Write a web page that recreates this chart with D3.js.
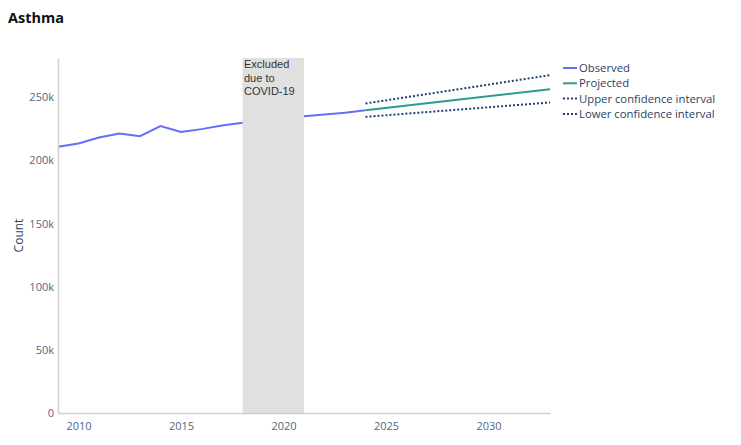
<!DOCTYPE html>
<html><head><meta charset="utf-8">
<script src="https://cdn.jsdelivr.net/npm/d3@7"></script>
<style>
body{margin:0;background:#fff;}
svg{display:block;}
</style></head>
<body><svg id="c" width="741" height="445"></svg>
<script>
const observedYears = [2009,2010,2011,2012,2013,2014,2015,2016,2017,2018,2021,2022,2023,2024];
const observedValues = [210700,213300,218100,221300,219100,227100,222500,224700,227600,229700,234900,236300,237600,239600];
const projYears = [2024,2033];
const projValues = [239600,256300];
const upperYears = [2024,2033];
const upperValues = [245000,267400];
const lowerYears = [2024,2033];
const lowerValues = [234400,245800];
const covidBand = [2018,2021];
const xTicks = [2010,2015,2020,2025,2030];
const yTicks = [0,50000,100000,150000,200000,250000];
const legendLabels = ["Observed","Projected","Upper confidence interval","Lower confidence interval"];

const svg = d3.select("#c");
const m = {l:58, r:191, t:58, b:32};
const W = 741, H = 445;
const x = d3.scaleLinear().domain([2009,2033]).range([m.l, W-m.r]);
const y = d3.scaleLinear().domain([0,281000]).range([H-m.b, m.t]);
const font = "'Open Sans', sans-serif";

svg.append("text").attr("x",8).attr("y",23).text("Asthma")
  .attr("font-family","'Open Sans', sans-serif").attr("font-weight","bold")
  .attr("font-size",14.5).attr("fill","#111");

const line = d3.line().x(d=>x(d[0])).y(d=>y(d[1]));
const zip = (a,b)=>a.map((v,i)=>[v,b[i]]);

svg.append("path").datum(zip(observedYears,observedValues)).attr("d",line)
  .attr("fill","none").attr("stroke","#636efa").attr("stroke-width",2);
svg.append("path").datum(zip(projYears,projValues)).attr("d",line)
  .attr("fill","none").attr("stroke","#2a9d8f").attr("stroke-width",2);
svg.append("path").datum(zip(upperYears,upperValues)).attr("d",line)
  .attr("fill","none").attr("stroke","#1f3f73").attr("stroke-width",2).attr("stroke-dasharray","2,2");
svg.append("path").datum(zip(lowerYears,lowerValues)).attr("d",line)
  .attr("fill","none").attr("stroke","#1f3f73").attr("stroke-width",2).attr("stroke-dasharray","2,2");

// covid band
svg.append("rect").attr("x",x(covidBand[0])).attr("y",m.t)
  .attr("width",x(covidBand[1])-x(covidBand[0])).attr("height",H-m.b-m.t)
  .attr("fill","#e0e0e0");
const bt = svg.append("text").attr("font-family","Arial, 'Liberation Sans', sans-serif")
  .attr("font-size",11).attr("fill","#333");
["Excluded","due to","COVID-19"].forEach((s,i)=>{
  bt.append("tspan").attr("x",x(covidBand[0])+1.5).attr("y",m.t+10+i*13.5).text(s);
});

// axes
const xa = svg.append("g").attr("transform",`translate(0,${H-m.b})`)
  .call(d3.axisBottom(x).tickValues(xTicks).tickFormat(d3.format("d")).tickSize(0).tickPadding(9));
xa.select(".domain").attr("stroke","#cfcfcf").attr("stroke-width",1.5);
xa.selectAll("text").attr("font-family",font).attr("font-size",11).attr("fill","#506784");

const ya = svg.append("g").attr("transform",`translate(${m.l},0)`)
  .call(d3.axisLeft(y).tickValues(yTicks).tickFormat(d=>d===0?"0":(d/1000)+"k").tickSize(0).tickPadding(4));
ya.select(".domain").attr("stroke","#cfcfcf").attr("stroke-width",1.5);
ya.selectAll("text").attr("font-family",font).attr("font-size",11).attr("fill","#506784");

svg.append("text").attr("transform",`translate(23,${(m.t+H-m.b)/2}) rotate(-90)`)
  .attr("text-anchor","middle").attr("font-family",font).attr("font-size",12)
  .attr("fill","#2a3f5f").text("Count");

// legend
const legStyles = [
  {c:"#636efa",d:null},{c:"#2a9d8f",d:null},{c:"#1f3f73",d:"2,2"},{c:"#1f3f73",d:"2,2"}
];
const lg = svg.append("g");
legendLabels.forEach((s,i)=>{
  const yy = 68 + i*15.3;
  lg.append("line").attr("x1",563).attr("x2",577).attr("y1",yy).attr("y2",yy)
    .attr("stroke",legStyles[i].c).attr("stroke-width",2)
    .attr("stroke-dasharray",legStyles[i].d);
  lg.append("text").attr("x",579).attr("y",yy+4).text(s)
    .attr("font-family",font).attr("font-size",11.3).attr("fill","#2a3f5f");
});
</script></body></html>
